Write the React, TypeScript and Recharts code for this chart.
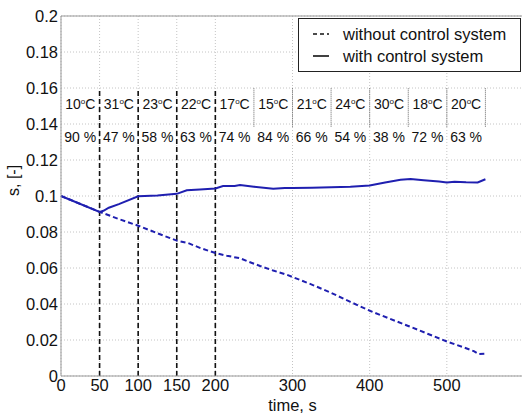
import {
  LineChart,
  Line,
  XAxis,
  YAxis,
  CartesianGrid,
  ReferenceLine,
  ReferenceDot,
  Legend,
} from "recharts";

const FONT = '"Liberation Sans", Arial, Helvetica, sans-serif';
const BLUE = "#1f1fb0";

// s(t) with the control system
const withControl = [
  { t: 0, s: 0.1 },
  { t: 50, s: 0.0912 },
  { t: 55, s: 0.0918 },
  { t: 62, s: 0.0935 },
  { t: 75, s: 0.0955 },
  { t: 100, s: 0.0998 },
  { t: 125, s: 0.1003 },
  { t: 150, s: 0.1012 },
  { t: 163, s: 0.1032 },
  { t: 180, s: 0.1036 },
  { t: 200, s: 0.1042 },
  { t: 210, s: 0.1055 },
  { t: 225, s: 0.1055 },
  { t: 232, s: 0.1061 },
  { t: 250, s: 0.1052 },
  { t: 275, s: 0.104 },
  { t: 290, s: 0.1045 },
  { t: 300, s: 0.1044 },
  { t: 325, s: 0.1046 },
  { t: 350, s: 0.1049 },
  { t: 375, s: 0.1052 },
  { t: 400, s: 0.1058 },
  { t: 420, s: 0.1075 },
  { t: 440, s: 0.109 },
  { t: 453, s: 0.1094 },
  { t: 470, s: 0.1088 },
  { t: 490, s: 0.108 },
  { t: 500, s: 0.1075 },
  { t: 510, s: 0.1079 },
  { t: 525, s: 0.1076 },
  { t: 540, s: 0.1075 },
  { t: 550, s: 0.1093 },
];

// s(t) without the control system
const withoutControl = [
  { t: 0, s: 0.1 },
  { t: 50, s: 0.0912 },
  { t: 75, s: 0.0872 },
  { t: 100, s: 0.0835 },
  { t: 125, s: 0.0793 },
  { t: 150, s: 0.0752 },
  { t: 165, s: 0.0738 },
  { t: 180, s: 0.0712 },
  { t: 200, s: 0.0683 },
  { t: 215, s: 0.0668 },
  { t: 232, s: 0.0654 },
  { t: 245, s: 0.0632 },
  { t: 258, s: 0.0611 },
  { t: 275, s: 0.0586 },
  { t: 293, s: 0.0562 },
  { t: 325, s: 0.0508 },
  { t: 350, s: 0.0462 },
  { t: 375, s: 0.0412 },
  { t: 401, s: 0.0361 },
  { t: 425, s: 0.032 },
  { t: 450, s: 0.0278 },
  { t: 475, s: 0.0235 },
  { t: 500, s: 0.0192 },
  { t: 520, s: 0.0162 },
  { t: 535, s: 0.0138 },
  { t: 541, s: 0.0122 },
  { t: 552, s: 0.0124 },
];

// 50 s segments: temperature and humidity
const segStarts = [0, 50, 100, 150, 200, 250, 300, 350, 400, 450, 500];
const temps = ["10", "31", "23", "22", "17", "15", "21", "24", "30", "18", "20"];
const humidity = ["90", "47", "58", "63", "74", "84", "66", "54", "38", "72", "63"];
const segWidth = 50;

const majorBreaks = [50, 100, 150, 200];
const minorBreaks = [250, 300, 350, 400, 450, 500, 550];

const xTicks = [0, 50, 100, 150, 200, 300, 400, 500];
const yTicks = [0, 0.02, 0.04, 0.06, 0.08, 0.1, 0.12, 0.14, 0.16, 0.18, 0.2];

const legendItems = [
  { label: "without control system", dash: "4 3" },
  { label: "with control system", dash: undefined },
];

function TempLabel({ viewBox, value }: any) {
  const cx = viewBox.x + viewBox.width / 2;
  const cy = viewBox.y + viewBox.height / 2;
  return (
    <text x={cx} y={cy} textAnchor="middle" dominantBaseline="central" fontSize={14} fontFamily={FONT} fill="#111">
      {value}
      <tspan fontSize={8} dy={-3}>o</tspan>
      <tspan dy={3}>C</tspan>
    </text>
  );
}

function HumLabel({ viewBox, value }: any) {
  const cx = viewBox.x + viewBox.width / 2;
  const cy = viewBox.y + viewBox.height / 2;
  return (
    <text x={cx} y={cy} textAnchor="middle" dominantBaseline="central" fontSize={14} fontFamily={FONT} fill="#111">
      {value} %
    </text>
  );
}

function LegendBox() {
  return (
    <div
      style={{
        position: "absolute",
        left: 298,
        top: 18,
        width: 221,
        height: 52,
        border: "1px solid #222",
        background: "#fff",
        fontFamily: FONT,
        fontSize: 16.5,
        color: "#111",
      }}
    >
      {legendItems.map((it, i) => (
        <div key={it.label} style={{ position: "absolute", left: 0, top: 4 + i * 22, height: 22, display: "flex", alignItems: "center" }}>
          <svg width={44} height={10}>
            <line x1={14} x2={30} y1={5} y2={5} stroke="#111" strokeWidth={1.6} strokeDasharray={it.dash} />
          </svg>
          <span>{it.label}</span>
        </div>
      ))}
    </div>
  );
}

export default function App() {
  return (
    <div style={{ position: "absolute", left: 0, top: 0, width: 522, height: 414, overflow: "hidden", background: "#fff" }}>
      <LineChart width={540} height={414} margin={{ top: 16, right: 16, bottom: 0, left: 0 }}>
        <CartesianGrid stroke="#c4c4c4" strokeDasharray="1 2" />
        <XAxis
          dataKey="t"
          type="number"
          domain={[0, 600]}
          ticks={xTicks}
          allowDuplicatedCategory={false}
          height={38}
          tickSize={0}
          tickMargin={3}
          stroke="#999"
          tick={{ fill: "#111", fontSize: 16.5, fontFamily: FONT }}
          label={{ value: "time, s", position: "insideBottom", offset: 3, fill: "#111", fontSize: 16.5, fontFamily: FONT }}
        />
        <YAxis
          type="number"
          domain={[0, 0.2]}
          ticks={yTicks}
          width={61}
          tickSize={0}
          tickMargin={3}
          stroke="#999"
          tickFormatter={(v: number) => String(Number(v.toFixed(2)))}
          tick={{ fill: "#111", fontSize: 16.5, fontFamily: FONT }}
          label={{ value: "s, [-]", angle: -90, position: "insideLeft", offset: 13, fill: "#111", fontSize: 16, fontFamily: FONT }}
        />
        <ReferenceLine y={0.2} stroke="#999" strokeWidth={1} />
        {majorBreaks.map((x) => (
          <ReferenceLine
            key={"m" + x}
            segment={[{ x, y: 0 }, { x, y: 0.16 }]}
            stroke="#111"
            strokeWidth={1.6}
            strokeDasharray="5 3"
          />
        ))}
        {minorBreaks.map((x) => (
          <ReferenceLine
            key={"n" + x}
            segment={[{ x, y: 0.1385 }, { x, y: 0.16 }]}
            stroke="#666"
            strokeWidth={1}
            strokeDasharray="1 1"
          />
        ))}
        {segStarts.map((x, i) => (
          <ReferenceDot
            key={"t" + x}
            x={x + segWidth / 2}
            y={0.151}
            r={0}
            fill="none"
            stroke="none"
            label={<TempLabel value={temps[i]} />}
          />
        ))}
        {segStarts.map((x, i) => (
          <ReferenceDot
            key={"h" + x}
            x={x + segWidth / 2}
            y={0.133}
            r={0}
            fill="none"
            stroke="none"
            label={<HumLabel value={humidity[i]} />}
          />
        ))}
        <Line
          data={withoutControl}
          dataKey="s"
          type="linear"
          stroke={BLUE}
          strokeWidth={2}
          strokeDasharray="5 3"
          dot={false}
          isAnimationActive={false}
        />
        <Line
          data={withControl}
          dataKey="s"
          type="linear"
          stroke={BLUE}
          strokeWidth={2}
          dot={false}
          isAnimationActive={false}
        />
        <Legend content={() => <LegendBox />} wrapperStyle={{ position: "absolute", left: 0, top: 0, width: 0, height: 0 }} />
      </LineChart>
    </div>
  );
}
